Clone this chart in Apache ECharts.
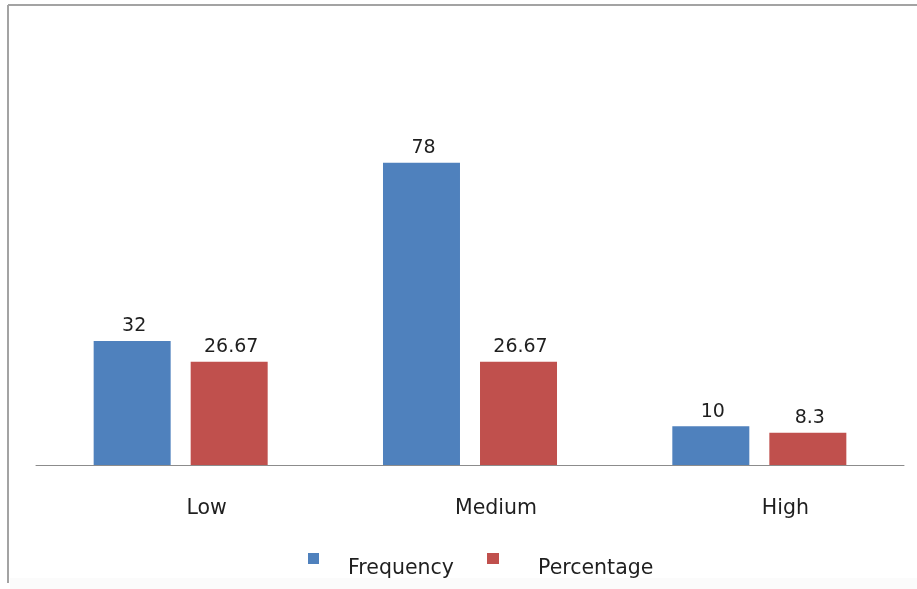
<!DOCTYPE html>
<html>
<head>
<meta charset="utf-8">
<title>Frequency and Percentage by Level</title>
<script src="https://cdn.jsdelivr.net/npm/echarts@6/dist/echarts.min.js"></script>
<style>
  html, body { margin: 0; padding: 0; background: #ffffff; }
  #chart { width: 917px; height: 589px; }
</style>
</head>
<body>
<div id="chart"></div>
<script>
// Levels on the category axis
const categories = ['Low', 'Medium', 'High'];
// Series values (as labelled on each bar)
const frequency = [32, 78, 10];
const percentage = [26.67, 26.67, 8.3];
// Series names shown in the legend
const seriesNames = ['Frequency', 'Percentage'];

const FONT = 'DejaVu Sans';
const TEXT_COLOR = '#1f1f1f';
const BLUE = '#4F81BD';
const RED = '#C0504D';

const chart = echarts.init(document.getElementById('chart'), null, { renderer: 'canvas' });

const valueLabel = {
  show: true,
  position: 'top',
  distance: 5,
  offset: [2, 0],
  fontFamily: FONT,
  fontSize: 19,
  color: TEXT_COLOR
};

// Legend entries sit a little below their swatches: an empty first line
// pushes the name down half a line.
function legendEntry(name, left, swatchWidth, textGap) {
  return {
    data: [name],
    left: left,
    top: 538,
    padding: 0,
    itemWidth: swatchWidth,
    itemHeight: 11,
    icon: 'rect',
    formatter: n => '\n' + n,
    textStyle: {
      fontFamily: FONT,
      fontSize: 20.5,
      lineHeight: 20,
      color: TEXT_COLOR,
      padding: [0, 0, 0, textGap]
    }
  };
}

chart.setOption({
  animation: false,
  backgroundColor: '#ffffff',
  grid: { left: 36, right: 13, top: 155, bottom: 124, containLabel: false },
  xAxis: {
    type: 'category',
    data: categories,
    axisLine: { show: true, lineStyle: { color: '#8c8c8c', width: 1 } },
    axisTick: { show: false },
    axisLabel: {
      margin: 33,
      fontFamily: FONT,
      fontSize: 20.5,
      color: TEXT_COLOR,
      padding: [0, 0, 0, 52]
    }
  },
  yAxis: {
    type: 'value',
    min: 0,
    max: 80,
    show: false,
    splitLine: { show: false }
  },
  legend: [
    legendEntry(seriesNames[0], 308, 11, 24),
    legendEntry(seriesNames[1], 487, 12, 34)
  ],
  series: [
    {
      name: seriesNames[0],
      type: 'bar',
      data: frequency,
      barWidth: 77,
      barGap: '26%',
      itemStyle: { color: BLUE },
      label: valueLabel
    },
    {
      name: seriesNames[1],
      type: 'bar',
      data: percentage,
      barWidth: 77,
      barGap: '26%',
      itemStyle: { color: RED },
      label: valueLabel
    }
  ],
  graphic: [
    // Frame along the top and left edges
    {
      type: 'line',
      shape: { x1: 8, y1: 5, x2: 917, y2: 5 },
      style: { stroke: '#a3a3a3', lineWidth: 2 },
      z: 10
    },
    {
      type: 'line',
      shape: { x1: 8, y1: 5, x2: 8, y2: 583 },
      style: { stroke: '#a3a3a3', lineWidth: 2 },
      z: 10
    },
    // Lower strip below the frame edge
    {
      type: 'rect',
      shape: { x: 10, y: 578, width: 907, height: 11 },
      style: { fill: '#fbfbfb' },
      z: 100
    }
  ]
});
</script>
</body>
</html>
